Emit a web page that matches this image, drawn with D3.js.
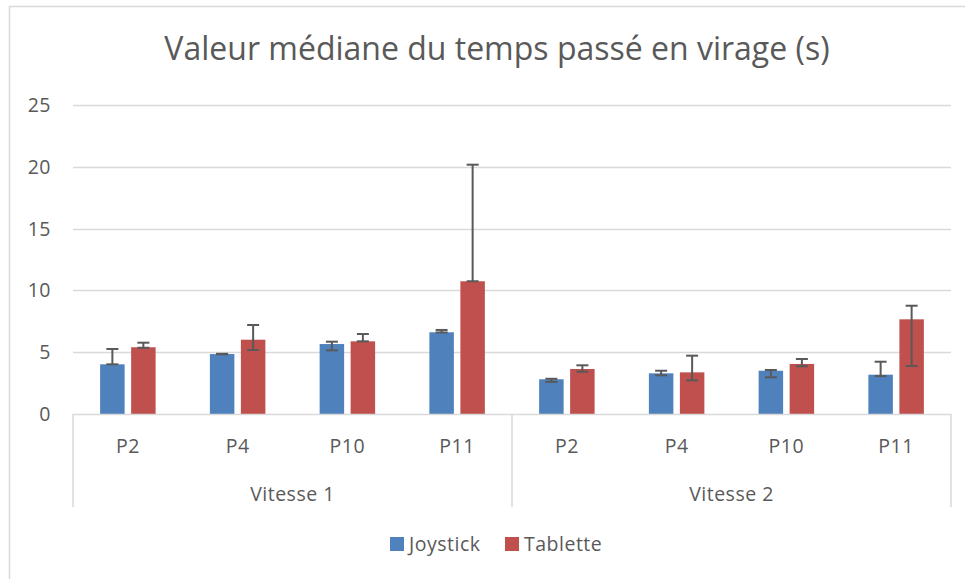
<!DOCTYPE html>
<html>
<head>
<meta charset="utf-8">
<script src="https://cdn.jsdelivr.net/npm/d3@7"></script>
<style>
  body { margin: 0; background: #fff; }
  svg text { font-family: "Open Sans", Lato, sans-serif; fill: #595959; }
  .lbl { font-size: 19.5px; letter-spacing: 0.5px; }
</style>
</head>
<body>
<svg id="chart" width="965" height="579"></svg>
<script>
// chart values
var groups = ["Vitesse 1", "Vitesse 2"];
var categories = ["P2", "P4", "P10", "P11"];
var series = ["Joystick", "Tablette"];
var colors = ["#4f81bd", "#c0504d"];
var yTicks = [0, 5, 10, 15, 20, 25];

var joystick     = [4.02, 4.85, 5.66, 6.61, 2.81, 3.29, 3.50, 3.18];
var joystickLow  = [4.02, 4.83, 5.15, 6.60, 2.60, 3.13, 2.97, 3.07];
var joystickHigh = [5.26, 4.87, 5.85, 6.80, 2.85, 3.50, 3.56, 4.23];
var tablette     = [5.40, 6.01, 5.88, 10.74, 3.64, 3.37, 4.05, 7.66];
var tabletteLow  = [5.36, 5.18, 5.88, 10.74, 3.42, 2.72, 3.86, 3.88];
var tabletteHigh = [5.77, 7.20, 6.47, 20.17, 3.94, 4.72, 4.45, 8.76];

var svg = d3.select('#chart');
var plotLeft = 73, plotRight = 951, plotTop = 105, plotBottom = 414;
var gridColor = '#d9d9d9';

// outer chart border (only top/left are inside the picture)
svg.append('rect')
  .attr('x', 9.5).attr('y', 6.5)
  .attr('width', 1000).attr('height', 600)
  .attr('fill', 'none').attr('stroke', gridColor).attr('stroke-width', 1.5);

svg.append('text')
  .attr('x', 497).attr('y', 60)
  .attr('text-anchor', 'middle')
  .style('font-size', '32px')
  .text('Valeur médiane du temps passé en virage (s)');

// one slot per (group, category)
var keys = [];
groups.forEach(function(g, gi) {
  categories.forEach(function(c) { keys.push(gi + '-' + c); });
});

var x = d3.scaleBand().domain(keys).range([plotLeft, plotRight]);
var xs = d3.scaleBand().domain(series).range([0, x.bandwidth()])
  .paddingInner(0.21).paddingOuter(0.875);
var y = d3.scaleLinear().domain([0, 25]).range([plotBottom, plotTop]);

// gridlines + y labels
svg.append('g').selectAll('line').data(yTicks.slice(1)).join('line')
  .attr('x1', plotLeft).attr('x2', plotRight)
  .attr('y1', function(d) { return Math.round(y(d)) + 0.5; })
  .attr('y2', function(d) { return Math.round(y(d)) + 0.5; })
  .attr('stroke', gridColor).attr('stroke-width', 1.5);

svg.append('g').selectAll('text').data(yTicks).join('text')
  .attr('class', 'lbl')
  .attr('x', 51).attr('y', function(d) { return y(d) + 7; })
  .attr('text-anchor', 'end')
  .text(function(d) { return d; });

var flat = [];
keys.forEach(function(k, i) {
  flat.push({ key: k, s: series[0], v: joystick[i], lo: joystickLow[i], hi: joystickHigh[i] });
  flat.push({ key: k, s: series[1], v: tablette[i], lo: tabletteLow[i], hi: tabletteHigh[i] });
});

svg.append('g').selectAll('rect').data(flat).join('rect')
  .attr('x', function(d) { return x(d.key) + xs(d.s); })
  .attr('width', xs.bandwidth())
  .attr('y', function(d) { return y(d.v); })
  .attr('height', function(d) { return y(0) - y(d.v); })
  .attr('fill', function(d) { return colors[series.indexOf(d.s)]; });

// error bars
var err = svg.append('g').attr('stroke', '#595959').attr('stroke-width', 2).attr('fill', 'none');
flat.forEach(function(d) {
  var cx = x(d.key) + xs(d.s) + xs.bandwidth() / 2;
  err.append('line').attr('x1', cx).attr('x2', cx).attr('y1', y(d.lo)).attr('y2', y(d.hi));
  [d.lo, d.hi].forEach(function(v) {
    err.append('line').attr('x1', cx - 6).attr('x2', cx + 6).attr('y1', y(v)).attr('y2', y(v));
  });
});

// category axis
svg.append('line')
  .attr('x1', plotLeft).attr('x2', plotRight).attr('y1', plotBottom + 0.5).attr('y2', plotBottom + 0.5)
  .attr('stroke', gridColor).attr('stroke-width', 1.5);

var sepX = [plotLeft, x(keys[categories.length]), plotRight];
svg.append('g').selectAll('line').data(sepX).join('line')
  .attr('x1', function(d) { return d; }).attr('x2', function(d) { return d; })
  .attr('y1', plotBottom).attr('y2', 507)
  .attr('stroke', gridColor).attr('stroke-width', 1.5);

svg.append('g').selectAll('text').data(keys).join('text')
  .attr('class', 'lbl')
  .attr('x', function(d) { return x(d) + x.bandwidth() / 2; })
  .attr('y', 453)
  .attr('text-anchor', 'middle')
  .text(function(d) { return d.split('-')[1]; });

svg.append('g').selectAll('text').data(groups).join('text')
  .attr('class', 'lbl')
  .attr('x', function(d, i) { return (sepX[i] + sepX[i + 1]) / 2; })
  .attr('y', 501)
  .attr('text-anchor', 'middle')
  .text(function(d) { return d; });

// legend
var legend = svg.append('g');
var legendX = [390, 505];
series.forEach(function(s, i) {
  legend.append('rect')
    .attr('x', legendX[i]).attr('y', 537).attr('width', 14).attr('height', 14)
    .attr('fill', colors[i]);
  legend.append('text')
    .attr('class', 'lbl')
    .attr('x', legendX[i] + 19).attr('y', 551)
    .text(s);
});
</script>
</body>
</html>
